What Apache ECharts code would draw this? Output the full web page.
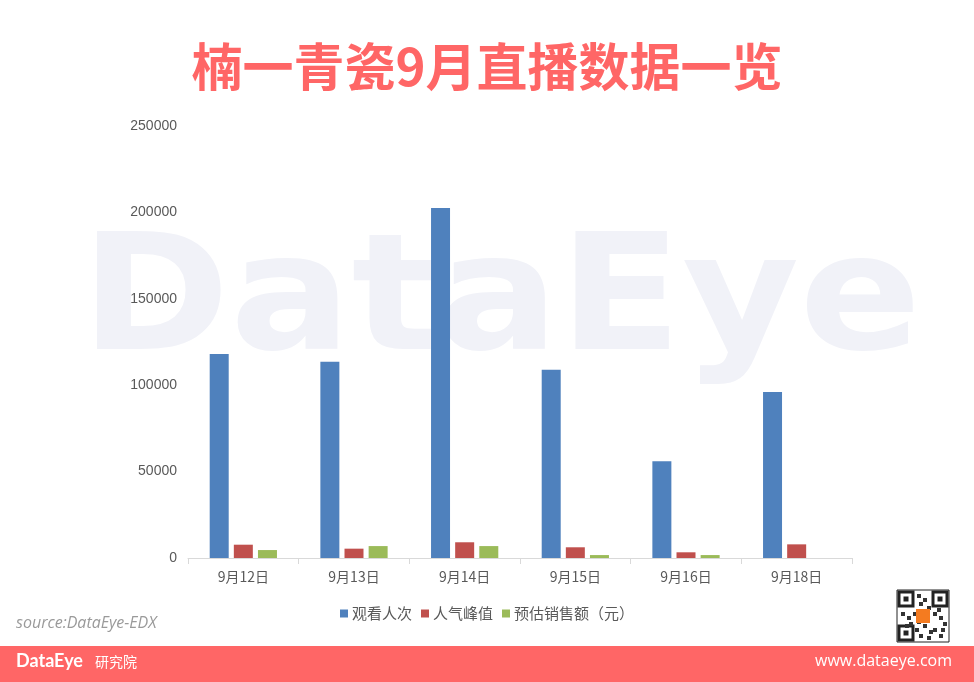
<!DOCTYPE html>
<html><head><meta charset="utf-8">
<script src="https://cdn.jsdelivr.net/npm/echarts@6/dist/echarts.min.js"></script>
<style>html,body{margin:0;padding:0;background:#fff;}#c{width:974px;height:682px;}</style>
</head><body><div id="c"></div>
<script>
const categories = ['9月12日','9月13日','9月14日','9月15日','9月16日','9月18日'];
const seriesNames = ['观看人次','人气峰值','预估销售额（元）'];
const viewers = [118000, 113500, 202500, 109000, 56000, 96000];
const peak = [7700, 5400, 9100, 6200, 3300, 7900];
const sales = [4600, 6900, 6900, 1700, 1700, 0];
const colors = ['#4f81bd','#c0504d','#9bbb59'];

const chart = echarts.init(document.getElementById('c'), null, {renderer:'canvas'});
const font = '"Noto Sans CJK SC", "Noto Sans", sans-serif';
const qr = [];
const qx = 897, qy = 590, qs = 52;
qr.push({type:'rect', shape:{x:qx, y:qy, width:qs, height:qs}, style:{fill:'#fff', stroke:'#222', lineWidth:1}, z:10});
[[qx+2,qy+2],[qx+qs-16,qy+2],[qx+2,qy+qs-16]].forEach(p=>{
  qr.push({type:'rect', shape:{x:p[0], y:p[1], width:14, height:14}, style:{fill:'#fff', stroke:'#222', lineWidth:3}, z:10});
  qr.push({type:'rect', shape:{x:p[0]+4.5, y:p[1]+4.5, width:5, height:5}, style:{fill:'#222'}, z:10});
});
const pattern = [[20,4],[26,8],[22,12],[30,16],[4,22],[10,26],[16,22],[36,22],[42,26],[46,32],[20,30],[26,34],[36,38],[42,44],[22,44],[30,46],[40,18],[12,32],[28,24],[18,38],[32,40],[44,38],[8,34]];
pattern.forEach(p=>qr.push({type:'rect', shape:{x:qx+p[0], y:qy+p[1], width:4, height:4}, style:{fill:'#333'}, z:10}));
qr.push({type:'rect', shape:{x:qx+19, y:qy+19, width:14, height:14}, style:{fill:'#f47b20'}, z:11});

chart.setOption({
  animation:false,
  backgroundColor:'#fff',
  color: colors,
  title:{
    text:'楠一青瓷9月直播数据一览', left:'center', top:36,
    textStyle:{color:'#ff6666', fontSize:51, fontWeight:'bold', fontFamily:font}
  },
  legend:{
    data: seriesNames, bottom:56, left:'center', itemWidth:8, itemHeight:8, itemGap:9,
    icon:'rect',
    textStyle:{color:'#595959', fontSize:15, fontFamily:font, padding:[0,0,0,-1]}
  },
  grid:{left:188, right:122, top:126, bottom:124, containLabel:false},
  xAxis:{
    type:'category', data:categories,
    axisLine:{lineStyle:{color:'#d9d9d9', width:1}},
    axisTick:{show:true, length:6, lineStyle:{color:'#d9d9d9'}},
    axisLabel:{color:'#595959', fontSize:14, fontFamily:font, margin:12}
  },
  yAxis:{
    type:'value', min:0, max:250000, interval:50000,
    axisLine:{show:false}, axisTick:{show:false}, splitLine:{show:false},
    axisLabel:{color:'#595959', fontSize:14, fontFamily:'"Liberation Sans", sans-serif', margin:11, formatter:v=>String(v)}
  },
  series:[
    {name:seriesNames[0], type:'bar', data:viewers, barWidth:19, barGap:'27%', itemStyle:{color:colors[0]}},
    {name:seriesNames[1], type:'bar', data:peak, barWidth:19, barGap:'27%', itemStyle:{color:colors[1]}},
    {name:seriesNames[2], type:'bar', data:sales, barWidth:19, barGap:'27%', itemStyle:{color:colors[2]}}
  ],
  graphic:[
    {type:'text', x:501, y:307, scaleX:1.0, scaleY:0.9, z:-10, silent:true,
      style:{text:'DataEye', fill:'#f1f2f8', font:'bold 180px "DejaVu Sans", sans-serif', textAlign:'center', textVerticalAlign:'middle'}},
    {type:'text', left:16, top:615,
      style:{text:'source:DataEye-EDX', fill:'#9a9a9a', font:'italic 16px "Open Sans", sans-serif'}},
    {type:'rect', shape:{x:0, y:646, width:974, height:36}, style:{fill:'#ff6666'}},
    {type:'text', left:16, top:652,
      style:{text:'DataEye', fill:'#fff', font:'bold 18px "Lato", sans-serif'}},
    {type:'text', left:95, top:655,
      style:{text:'研究院', fill:'#fff', font:'14px "Noto Sans CJK SC", sans-serif'}},
    {type:'text', right:22, top:653,
      style:{text:'www.dataeye.com', fill:'#fff', font:'16px "Open Sans", sans-serif'}},
    ...qr
  ]
});
</script></body></html>
